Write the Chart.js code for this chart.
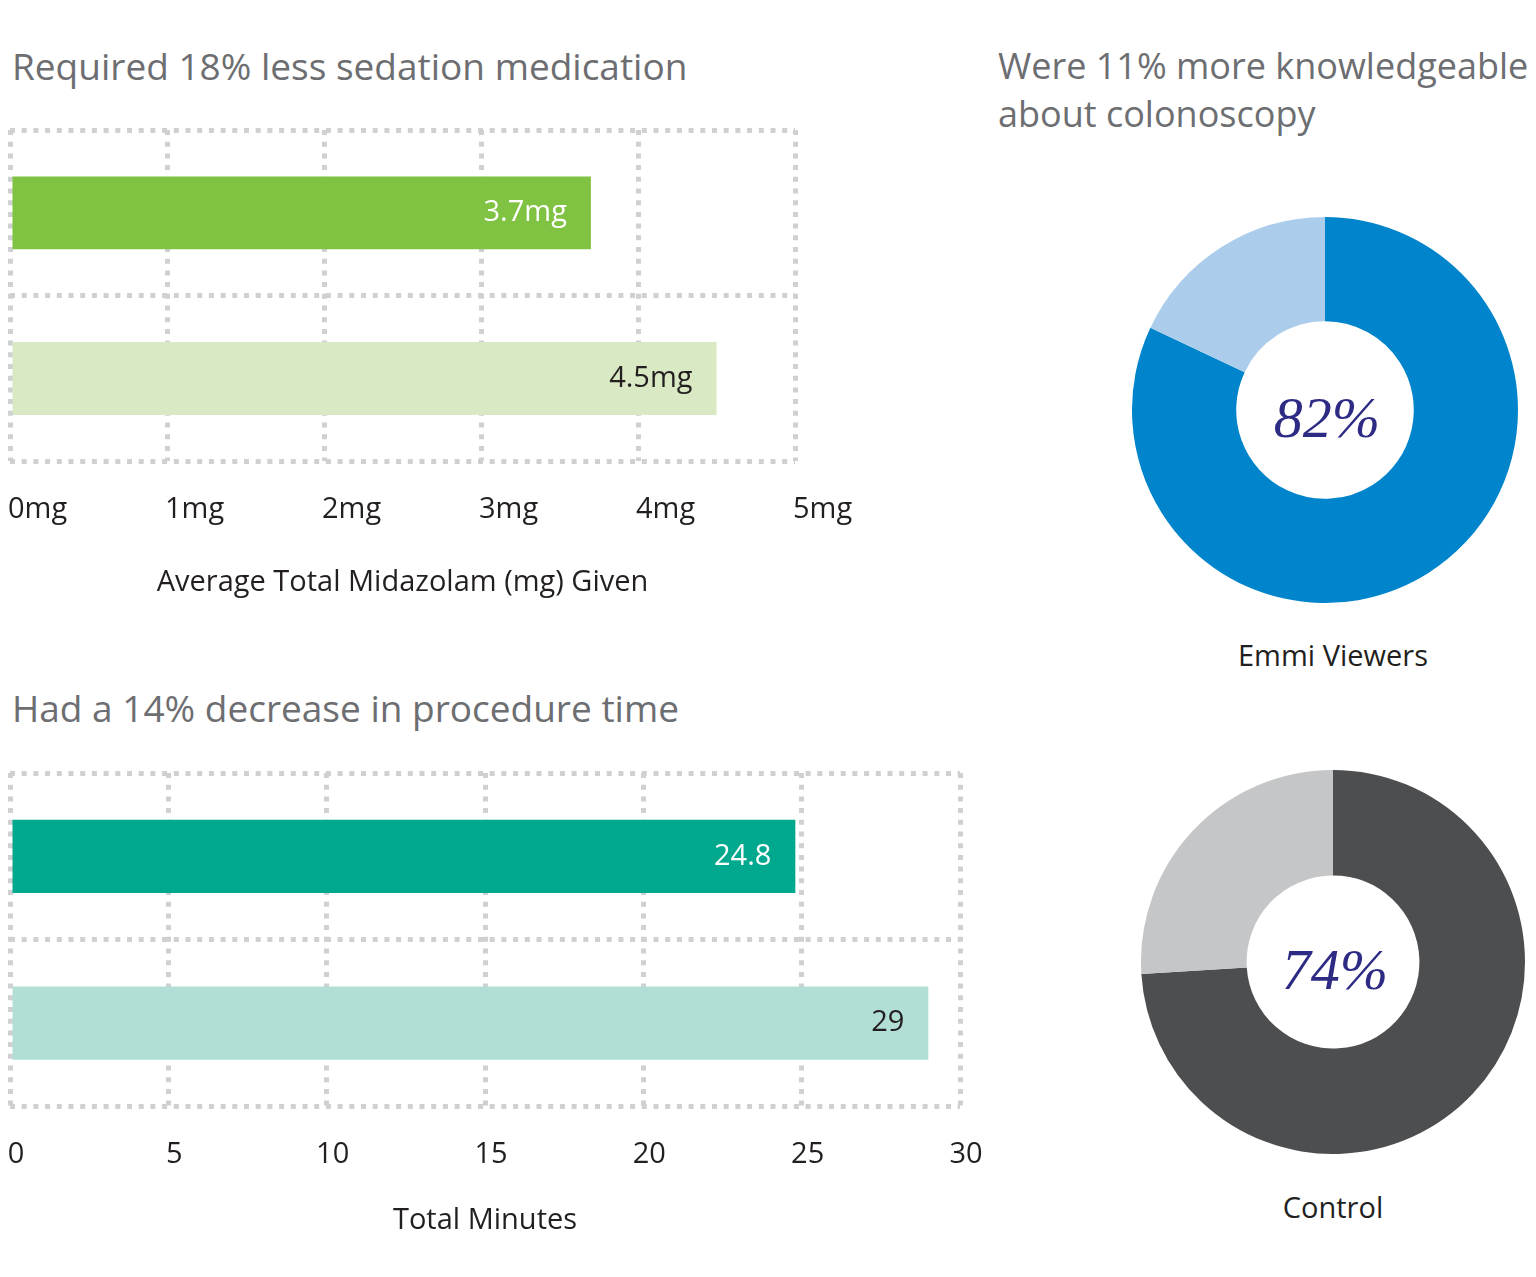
<!DOCTYPE html>
<html>
<head>
<meta charset="utf-8">
<script src="https://cdn.jsdelivr.net/npm/chart.js@4.4.1/dist/chart.umd.min.js"></script>
<style>
  body { margin: 0; background: #fff; width: 1536px; height: 1277px; position: relative; overflow: hidden; font-family: "Open Sans", sans-serif; }
  .title { position: absolute; font-size: 37px; line-height: 48px; color: #6d6e71; white-space: nowrap; }
  .label { position: absolute; font-size: 29px; line-height: 40px; color: #231f20; white-space: nowrap; transform: translateX(-50%); }
  canvas { position: absolute; }
</style>
</head>
<body>
<div class="title" style="left:12px; top:42px;">Required 18% less sedation medication</div>
<div class="title" style="left:998px; top:42px; font-size:36px;">Were 11% more knowledgeable<br>about colonoscopy</div>
<div class="title" style="left:12px; top:684px;">Had a 14% decrease in procedure time</div>
<div class="label" style="left:1333px; top:635px;">Emmi Viewers</div>
<div class="label" style="left:1333px; top:1187px;">Control</div>

<canvas id="sedation" width="900" height="500" style="left:0; top:120px;"></canvas>
<canvas id="minutes" width="1050" height="500" style="left:0; top:760px;"></canvas>
<canvas id="emmi" width="386" height="386" style="left:1132px; top:217px;"></canvas>
<canvas id="control" width="384" height="384" style="left:1141px; top:770px;"></canvas>

<script>
// data
var groups = ['Emmi Viewers', 'Control'];
var sedationMg = [3.7, 4.5];
var sedationLabels = ['3.7mg', '4.5mg'];
var procedureMinutes = [24.8, 29];
var minutesLabels = ['24.8', '29'];
var knowledgeEmmi = [82, 18];
var knowledgeControl = [74, 26];

var fontFamily = '"Open Sans", sans-serif';
var dark = '#231f20';
var dotColor = '#cfd0d2';

// writes the value inside the end of each bar
var barValues = {
  id: 'barValues',
  afterDatasetsDraw: function(chart, args, opts) {
    var ctx = chart.ctx;
    var meta = chart.getDatasetMeta(0);
    ctx.save();
    ctx.font = '29px ' + fontFamily;
    ctx.textAlign = 'right';
    ctx.textBaseline = 'middle';
    meta.data.forEach(function(bar, i) {
      ctx.fillStyle = opts.colors[i];
      ctx.fillText(opts.texts[i], bar.x - 24, bar.y);
    });
    ctx.restore();
  }
};

// big number in the hole of the doughnut
var centerText = {
  id: 'centerText',
  afterDraw: function(chart) {
    var a = chart.chartArea;
    var ctx = chart.ctx;
    ctx.save();
    ctx.font = 'italic 58px "Liberation Serif", serif';
    ctx.fillStyle = '#2e2b84';
    ctx.textAlign = 'center';
    ctx.textBaseline = 'middle';
    ctx.fillText(chart.data.datasets[0].data[0] + '%', (a.left + a.right) / 2 + 2, (a.top + a.bottom) / 2 + 12);
    ctx.restore();
  }
};

function barChart(id, values, colors, max, step, tickFmt, tickAlign, labelShift, axisTitle, titlePad, texts, textColors, pad) {
  return new Chart(document.getElementById(id), {
    type: 'bar',
    data: {
      labels: groups,
      datasets: [{
        data: values,
        backgroundColor: colors,
        barPercentage: 0.44,
        categoryPercentage: 1
      }]
    },
    options: {
      indexAxis: 'y',
      responsive: false,
      animation: false,
      layout: { padding: pad },
      plugins: {
        legend: { display: false },
        tooltip: { enabled: false },
        barValues: { texts: texts, colors: textColors }
      },
      scales: {
        x: {
          min: 0,
          max: max,
          ticks: {
            stepSize: step,
            padding: 0,
            align: tickAlign,
            labelOffset: labelShift,
            maxRotation: 0,
            color: dark,
            font: { family: fontFamily, size: 29 },
            callback: tickFmt
          },
          // invisible tick marks keep the labels away from the plot
          grid: { color: dotColor, lineWidth: 5, drawTicks: true, tickLength: 31, tickColor: 'rgba(0,0,0,0)' },
          border: { display: false, dash: [5, 6.7] },
          title: {
            display: true,
            text: axisTitle,
            color: dark,
            font: { family: fontFamily, size: 29 },
            padding: { top: titlePad, bottom: 0 }
          }
        },
        y: {
          ticks: { display: false },
          grid: { color: dotColor, lineWidth: 5, drawTicks: false },
          border: { display: false, dash: [5, 6.7] },
          afterFit: function(s) { s.width = 0; }
        }
      }
    },
    plugins: [barValues]
  });
}

barChart('sedation', sedationMg, ['#80c242', '#d9e9c3'], 5, 1,
  function(v) { return v + 'mg'; }, 'start', -2,
  'Average Total Midazolam (mg) Given', 38,
  sedationLabels, ['#ffffff', dark],
  { top: 10, left: 10, right: 105, bottom: 20 });

barChart('minutes', procedureMinutes, ['#00a88e', '#b1dfd5'], 30, 5,
  function(v) { return v; }, 'center', 6,
  'Total Minutes', 31,
  minutesLabels, ['#ffffff', dark],
  { top: 13, left: 10, right: 90, bottom: 22 });

function donut(id, values, colors, cut) {
  return new Chart(document.getElementById(id), {
    type: 'doughnut',
    data: {
      labels: ['Yes', 'No'],
      datasets: [{ data: values, backgroundColor: colors, borderWidth: 0 }]
    },
    options: {
      responsive: false,
      animation: false,
      cutout: cut,
      plugins: { legend: { display: false }, tooltip: { enabled: false } }
    },
    plugins: [centerText]
  });
}

donut('emmi', knowledgeEmmi, ['#0084cb', '#abcdeb'], '46%');
donut('control', knowledgeControl, ['#4d4e50', '#c5c6c8'], '45%');
</script>
</body>
</html>
